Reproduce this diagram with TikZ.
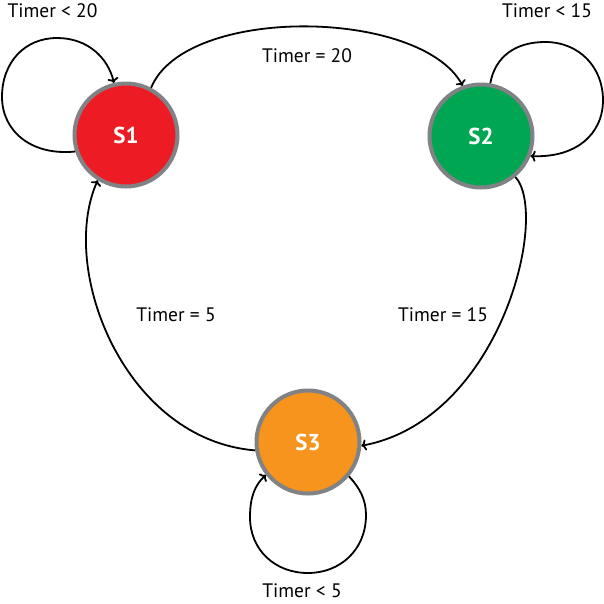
\documentclass[tikz,border=0pt]{standalone}
\usepackage{fontspec}
\setmainfont{PT Sans}
\usetikzlibrary{arrows.meta}
\definecolor{sred}{HTML}{ED1C24}
\definecolor{sgreen}{HTML}{00A651}
\definecolor{sorange}{HTML}{F7941D}
\definecolor{sgray}{HTML}{808285}
\tikzset{
  state/.style={circle, draw=sgray, line width=4pt, minimum size=103pt, inner sep=0pt,
    text=white, font=\fontsize{23}{26}\selectfont\bfseries},
  trans/.style={line width=1.8pt, -{Computer Modern Rightarrow[length=5pt,width=11pt]}},
  lbl/.style={anchor=base, inner sep=0pt, font=\fontsize{19.5}{23}\selectfont}
}
\begin{document}
\begin{tikzpicture}[x=1pt,y=-1pt]
\useasboundingbox (0,0) rectangle (604,603);
\node[state, fill=sred] (s1) at (126,135) {S1};
\node[state, fill=sgreen] (s2) at (481,136) {S2};
\node[state, fill=sorange] (s3) at (308,442) {S3};

\node[lbl] (l1) at (52.5,17) {Timer < 20};
\node[lbl] (l2) at (547,17) {Timer < 15};
\node[lbl] (l3) at (307,62) {Timer = 20};
\node[lbl] (l4) at (176,321) {Timer = 5};
\node[lbl] (l5) at (443,321) {Timer = 15};
\node[lbl] (l6) at (302,597) {Timer < 5};

% S1 self loop
\draw[trans] (s1.198) .. controls (30,156) and (2,130) .. (2,97)
  .. controls (2,62) and (25,38) .. (57,38)
  .. controls (88,38) and (108,58) .. (s1.103);
% S1 -> S2
\draw[trans] (s1.62) .. controls (185,5) and (420,8) .. (s2.110);
% S2 self loop
\draw[trans] (s2.80) .. controls (495,57) and (515,42) .. (545,42)
  .. controls (580,42) and (603,68) .. (603,100)
  .. controls (603,135) and (575,158) .. (s2.338);
% S2 -> S3
\draw[trans] (s2.310) .. controls (550,215) and (500,420) .. (s3.356);
% S3 -> S1
\draw[trans] (s3.189) .. controls (125,440) and (58,270) .. (s1.238);
% S3 self loop
\draw[trans] (s3.320) .. controls (360,488) and (366,500) .. (366,515)
  .. controls (366,550) and (340,573) .. (308,573)
  .. controls (275,573) and (250,550) .. (250,517)
  .. controls (250,497) and (255,485) .. (s3.218);
\end{tikzpicture}
\end{document}
